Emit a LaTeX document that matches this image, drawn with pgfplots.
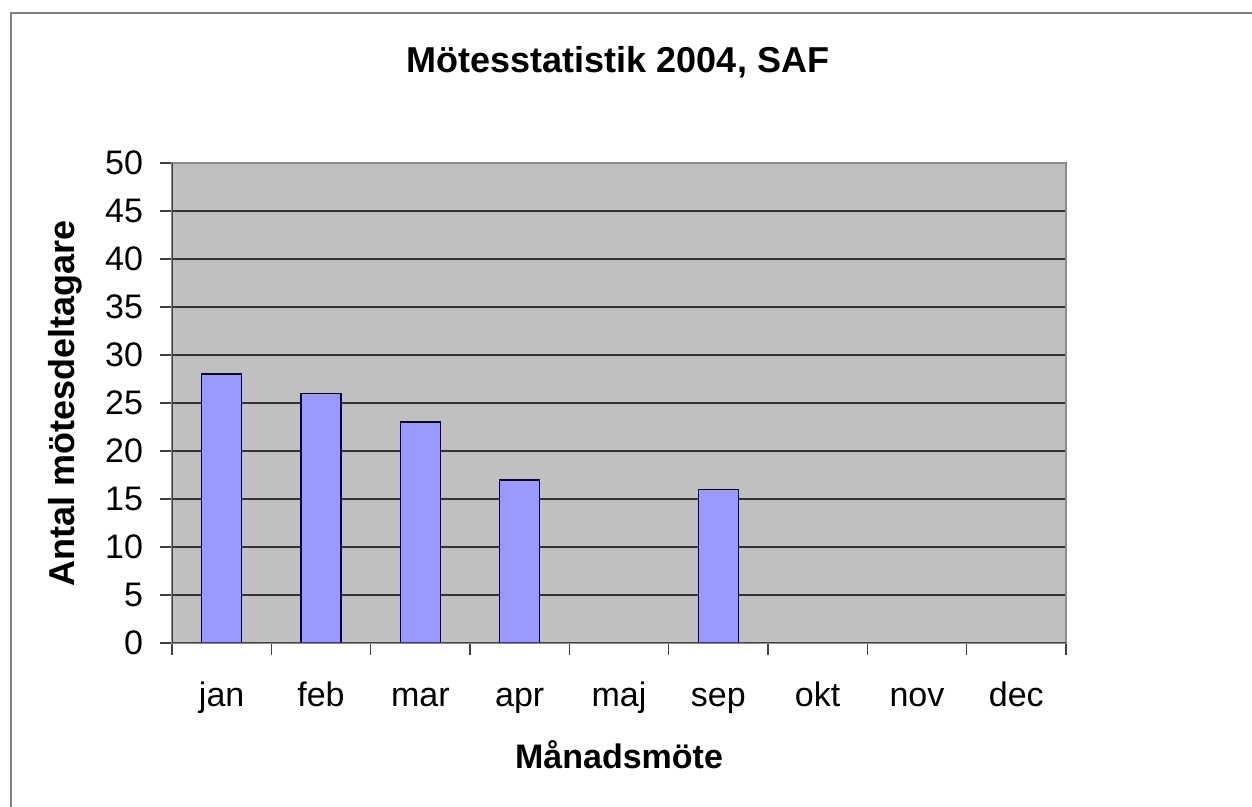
\documentclass[border=0pt]{standalone}
\usepackage{pgfplots}
\pgfplotsset{compat=1.18}
\usepackage{fontspec}
\setmainfont{Liberation Sans}
\definecolor{barfill}{RGB}{153,153,255}
\definecolor{plotbg}{RGB}{192,192,192}
\begin{document}
\begin{tikzpicture}
\useasboundingbox (0,0) rectangle (626pt,403.5pt);
\fill[white] (0,0) rectangle (626pt,403.5pt);
\draw[black!50, line width=1pt] (5.5pt,0) -- (5.5pt,397pt) -- (626pt,397pt);
\begin{axis}[
  at={(86pt,82pt)}, anchor=south west, scale only axis,
  width=447pt, height=240pt,
  xmin=-0.5, xmax=8.5, ymin=0, ymax=50,
  ytick={0,5,...,50},
  xtick={0,...,8},
  xticklabels={jan,feb,mar,apr,maj,sep,okt,nov,dec},
  minor xtick={-0.5,0.5,...,8.5},
  xtick pos=bottom, ytick pos=left,
  tick align=outside,
  major tick length=6pt, minor tick length=6pt,
  xtick style={draw=none},
  minor x tick style={draw=black!75, line width=0.8pt},
  ytick style={draw=black!75, line width=0.8pt},
  ymajorgrids, grid style={black!80, line width=0.9pt},
  axis background/.style={fill=plotbg},
  axis line style={black!45, line width=0.8pt},
  /pgf/number format/assume math mode=true,
  ticklabel style={font=\fontsize{17}{17}\selectfont},
  xticklabel style={anchor=base, yshift=-26pt},
  yticklabel style={anchor=east, xshift=-5pt},
]
\addplot[ybar, bar width=20pt, fill=barfill, draw=black!70!blue, line width=0.8pt]
  coordinates {(0,28) (1,26) (2,23) (3,17) (5,16)};
\draw[black!75, line width=1pt] (axis cs:-0.5,50) -- (axis cs:-0.5,0) -- (axis cs:8.5,0);
\end{axis}
\node[font=\bfseries\fontsize{18}{18}\selectfont] at (309pt,372.5pt) {Mötesstatistik 2004, SAF};
\node[font=\bfseries\fontsize{17}{17}\selectfont] at (309.5pt,26pt) {Månadsmöte};
\node[rotate=90, font=\bfseries\fontsize{18}{18}\selectfont] at (32.5pt,202pt) {Antal mötesdeltagare};
\end{tikzpicture}
\end{document}
